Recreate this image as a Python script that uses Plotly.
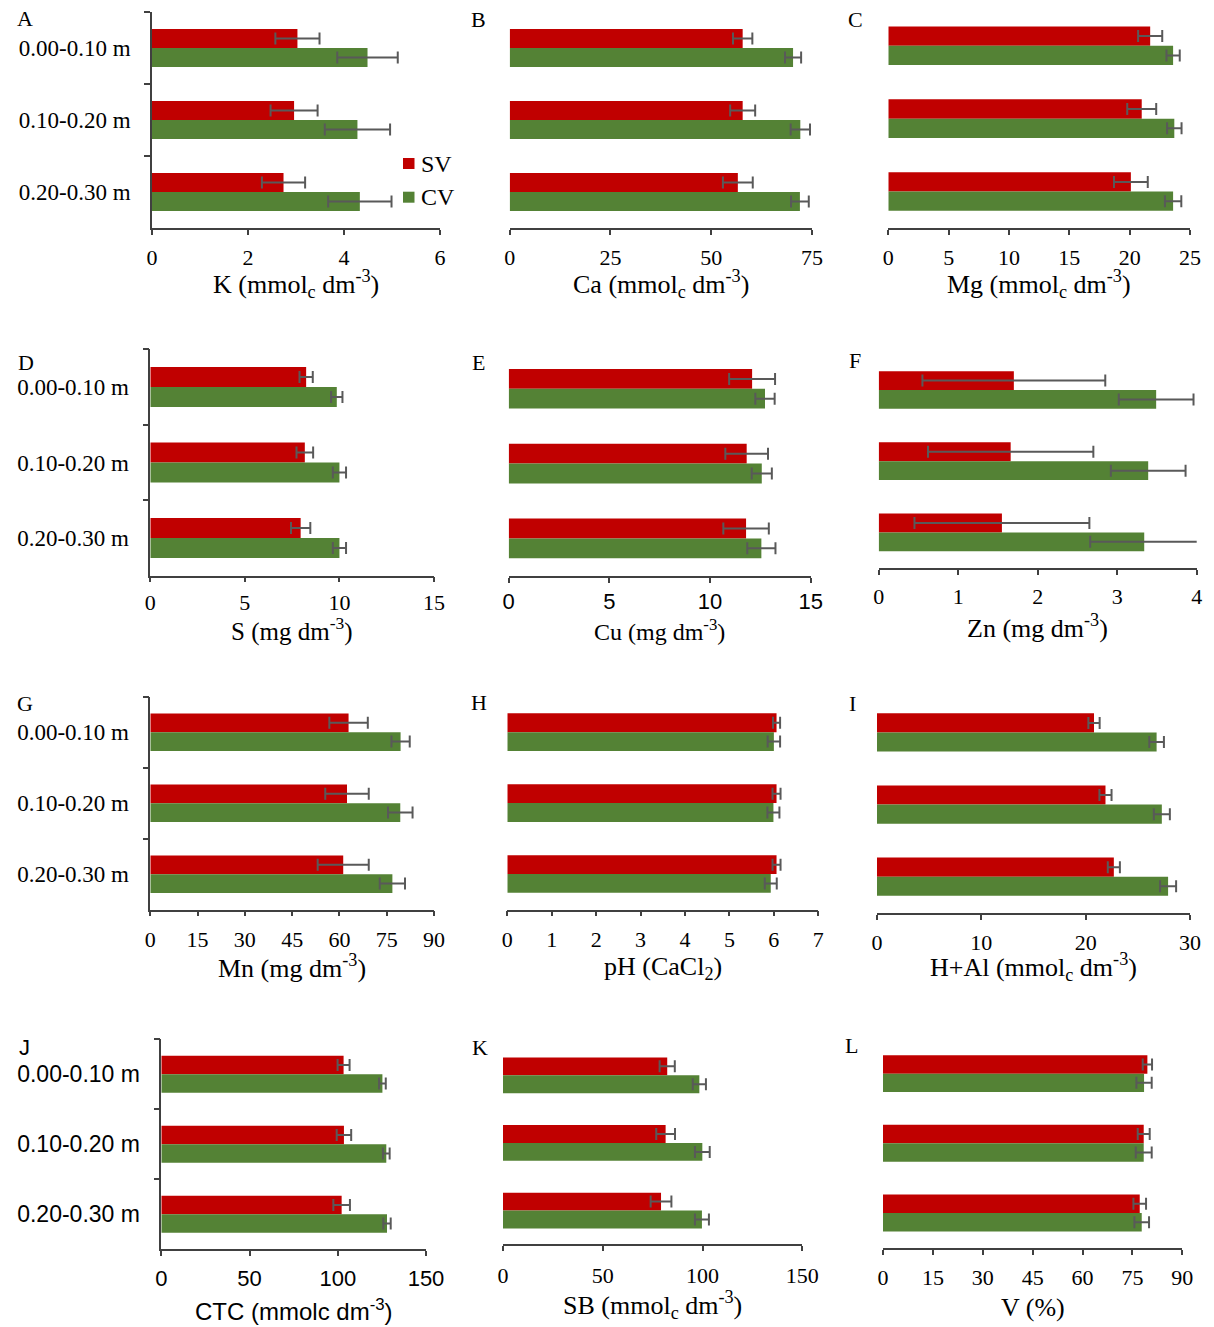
import plotly.graph_objects as go

# ---------------------------------------------------------------------------
# Data: soil attributes by depth, SV vs CV (mean and error)
# ---------------------------------------------------------------------------
depths = ["0.00-0.10 m", "0.10-0.20 m", "0.20-0.30 m"]
treatments = ["SV", "CV"]

k_sv = [3.03, 2.96, 2.74]
k_sv_err = [0.46, 0.49, 0.45]
k_cv = [4.49, 4.28, 4.33]
k_cv_err = [0.63, 0.68, 0.66]

ca_sv = [57.8, 57.8, 56.6]
ca_sv_err = [2.4, 3.1, 3.7]
ca_cv = [70.3, 72.1, 72.0]
ca_cv_err = [2.0, 2.4, 2.2]

mg_sv = [21.7, 21.0, 20.1]
mg_sv_err = [1.0, 1.2, 1.4]
mg_cv = [23.6, 23.7, 23.6]
mg_cv_err = [0.55, 0.6, 0.68]

s_sv = [8.24, 8.17, 7.95]
s_sv_err = [0.35, 0.44, 0.51]
s_cv = [9.86, 10.0, 10.0]
s_cv_err = [0.3, 0.35, 0.35]

cu_sv = [12.09, 11.82, 11.79]
cu_sv_err = [1.14, 1.06, 1.13]
cu_cv = [12.73, 12.57, 12.55]
cu_cv_err = [0.48, 0.5, 0.7]

zn_sv = [1.70, 1.66, 1.55]
zn_sv_err = [1.15, 1.04, 1.10]
zn_cv = [3.49, 3.39, 3.34]
zn_cv_err = [0.47, 0.47, 0.68]

mn_sv = [62.9, 62.4, 61.2]
mn_sv_err = [6.1, 6.9, 8.1]
mn_cv = [79.4, 79.3, 76.8]
mn_cv_err = [2.9, 3.9, 4.0]

ph_sv = [6.06, 6.06, 6.06]
ph_sv_err = [0.08, 0.09, 0.09]
ph_cv = [6.0, 5.99, 5.93]
ph_cv_err = [0.14, 0.135, 0.135]

hal_sv = [20.8, 21.9, 22.7]
hal_sv_err = [0.54, 0.58, 0.58]
hal_cv = [26.8, 27.3, 27.9]
hal_cv_err = [0.7, 0.77, 0.77]

ctc_sv = [103.3, 103.5, 102.2]
ctc_sv_err = [3.4, 4.1, 4.7]
ctc_cv = [125.3, 127.5, 127.9]
ctc_cv_err = [1.9, 1.9, 2.1]

sb_sv = [82.3, 81.5, 79.2]
sb_sv_err = [3.8, 4.7, 5.2]
sb_cv = [98.4, 99.9, 99.7]
sb_cv_err = [3.3, 3.7, 3.5]

v_sv = [79.5, 78.4, 77.2]
v_sv_err = [1.4, 1.8, 1.9]
v_cv = [78.5, 78.4, 77.8]
v_cv_err = [2.3, 2.4, 2.2]

# ---------------------------------------------------------------------------
# Styling
# ---------------------------------------------------------------------------
W, H = 1214, 1327
SERIF = "Liberation Serif"
SANS = "Liberation Sans"
RED = "#C00000"
GREEN = "#548235"
ERR = "#595959"
AXIS = "#404040"

# letter, axis title, sv, sv_err, cv, cv_err, axis max, dtick,
# box (left, right, top, bottom px), title y, letter xy,
# show depth labels, tick font, title/letter font, tick label standoff, title size
panels = [
    ("A", "K (mmol<sub>c</sub> dm<sup>-3</sup>)", k_sv, k_sv_err, k_cv, k_cv_err, 6, 2,
     (152, 440, 12, 228), 284, (25.3, 18.8), True, SERIF, SERIF, 4, 26),
    ("B", "Ca (mmol<sub>c</sub> dm<sup>-3</sup>)", ca_sv, ca_sv_err, ca_cv, ca_cv_err, 75, 25,
     (509.7, 812, 12, 228), 284, (478.3, 19), False, SERIF, SERIF, 4, 26),
    ("C", "Mg (mmol<sub>c</sub> dm<sup>-3</sup>)", mg_sv, mg_sv_err, mg_cv, mg_cv_err, 25, 5,
     (888.3, 1190, 9.3, 228), 284, (855.7, 19), False, SERIF, SERIF, 4, 26),
    ("D", "S (mg dm<sup>-3</sup>)", s_sv, s_sv_err, s_cv, s_cv_err, 15, 5,
     (150.3, 434, 349.3, 575.7), 629, (26.3, 362.5), True, SERIF, SERIF, 1, 25),
    ("E", "Cu (mg dm<sup>-3</sup>)", cu_sv, cu_sv_err, cu_cv, cu_cv_err, 15, 5,
     (508.7, 810.7, 351.4, 575.8), 630, (478.3, 362.2), False, SANS, SERIF, 0, 24),
    ("F", "Zn (mg dm<sup>-3</sup>)", zn_sv, zn_sv_err, zn_cv, zn_cv_err, 4, 1,
     (878.7, 1196.7, 354.4, 568), 626, (855, 361), False, SERIF, SERIF, 3, 26),
    ("G", "Mn (mg dm<sup>-3</sup>)", mn_sv, mn_sv_err, mn_cv, mn_cv_err, 90, 15,
     (150.3, 434, 696.7, 909.7), 967, (25, 703.7), True, SERIF, SERIF, 4, 26),
    ("H", "pH (CaCl<sub>2</sub>)", ph_sv, ph_sv_err, ph_cv, ph_cv_err, 7, 1,
     (507.3, 818.3, 696.7, 909.5), 968, (479.2, 702.5), False, SERIF, SERIF, 4, 26),
    ("I", "H+Al (mmol<sub>c</sub> dm<sup>-3</sup>)", hal_sv, hal_sv_err, hal_cv, hal_cv_err, 30, 10,
     (877, 1190, 696.4, 912.8), 967, (852.2, 703.3), False, SERIF, SERIF, 4, 26),
    ("J", "CTC (mmolc dm<sup>-3</sup>)", ctc_sv, ctc_sv_err, ctc_cv, ctc_cv_err, 150, 50,
     (161.3, 426, 1039.2, 1249.3), 1310, (24.2, 1047.5), True, SANS, SANS, 4, 24),
    ("K", "SB (mmol<sub>c</sub> dm<sup>-3</sup>)", sb_sv, sb_sv_err, sb_cv, sb_cv_err, 150, 50,
     (503, 802.3, 1041.5, 1244.4), 1305, (480, 1047), False, SERIF, SERIF, 5, 26),
    ("L", "V (%)", v_sv, v_sv_err, v_cv, v_cv_err, 90, 15,
     (883, 1182.3, 1038.8, 1247.8), 1307, (851.7, 1045.3), False, SERIF, SERIF, 4, 26),
]


def px_x(v):
    return v / W


def px_y(v):
    return 1 - v / H


fig = go.Figure()
layout = dict(
    width=W, height=H, autosize=False,
    margin=dict(l=0, r=0, t=0, b=0, pad=0, autoexpand=False),
    paper_bgcolor="white", plot_bgcolor="white",
    barmode="group", bargap=0.47, bargroupgap=0,
    showlegend=False,
    font=dict(family=SERIF, color="black"),
)
annotations = []
shapes = []

for i, (letter, title, sv, sv_e, cv, cv_e, vmax, dtick, box, title_y, letter_xy,
        show_depths, tick_font, text_font, standoff, title_size) in enumerate(panels):
    n = "" if i == 0 else str(i + 1)
    xref, yref = "x" + n, "y" + n
    left, right, top, bottom = box

    for name, vals, errs, color in ((treatments[0], sv, sv_e, RED),
                                    (treatments[1], cv, cv_e, GREEN)):
        fig.add_trace(go.Bar(
            name=name, x=vals, y=depths, orientation="h",
            marker=dict(color=color, line=dict(width=0)),
            error_x=dict(type="data", array=errs, visible=True,
                         color=ERR, thickness=2, width=6),
            xaxis=xref, yaxis=yref, showlegend=False,
            hovertemplate=name + " %{y}: %{x}<extra></extra>",
        ))

    layout["xaxis" + n] = dict(
        domain=[px_x(left), px_x(right)], anchor=yref,
        range=[0, vmax], dtick=dtick, tick0=0, automargin=False,
        showgrid=False, zeroline=False,
        showline=True, linecolor=AXIS, linewidth=1.5,
        ticks="outside", ticklen=5, tickwidth=1.5, tickcolor=AXIS,
        tickfont=dict(family=tick_font, size=22, color="black"),
        ticklabelstandoff=standoff,
        fixedrange=True,
    )
    ydict = dict(
        domain=[px_y(bottom), px_y(top)], anchor=xref, automargin=False,
        type="category", categoryarray=depths, categoryorder="array",
        range=[2.5, -0.5],
        showgrid=False, zeroline=False, fixedrange=True,
    )
    if show_depths:
        ydict.update(
            showline=True, linecolor=AXIS, linewidth=1.5,
            ticks="outside", ticklen=6, tickwidth=1.5, tickcolor=AXIS,
            tickson="boundaries",
            showticklabels=True,
            tickfont=dict(family=text_font, size=23, color="black"),
            ticklabelstandoff=15,
        )
    else:
        ydict.update(showline=False, ticks="", showticklabels=False)
    layout["yaxis" + n] = ydict

    # axis title
    annotations.append(dict(
        text=title, xref="paper", yref="paper",
        x=px_x((left + right) / 2), y=px_y(title_y),
        xanchor="center", yanchor="middle", showarrow=False,
        font=dict(family=text_font, size=title_size, color="black"),
    ))
    # panel letter
    annotations.append(dict(
        text=letter, xref="paper", yref="paper",
        x=px_x(letter_xy[0]), y=px_y(letter_xy[1]),
        xanchor="center", yanchor="middle", showarrow=False,
        font=dict(family=text_font, size=22, color="black"),
    ))

# legend (panel A)
for label, color, cy in ((treatments[0], RED, 163.5), (treatments[1], GREEN, 197.2)):
    shapes.append(dict(
        type="rect", xref="paper", yref="paper",
        x0=px_x(403), x1=px_x(414.5), y0=px_y(cy - 5.5), y1=px_y(cy + 5.5),
        fillcolor=color, line=dict(width=0),
    ))
    annotations.append(dict(
        text=label, xref="paper", yref="paper",
        x=px_x(419), y=px_y(cy), xanchor="left", yanchor="middle",
        showarrow=False, font=dict(family=SERIF, size=24, color="black"),
    ))

layout["annotations"] = annotations
layout["shapes"] = shapes
fig.update_layout(**layout)

fig.write_html("out.html")
